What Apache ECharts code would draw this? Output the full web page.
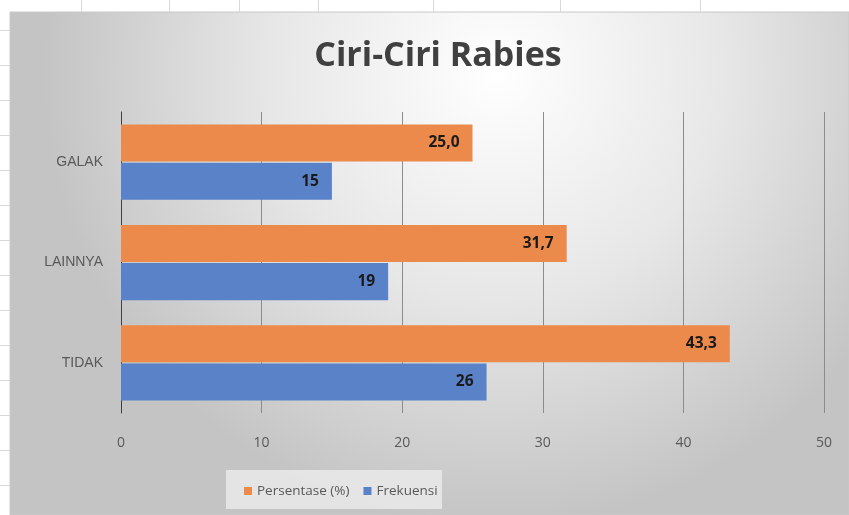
<!DOCTYPE html>
<html>
<head>
<meta charset="utf-8">
<script src="https://cdn.jsdelivr.net/npm/echarts@6/dist/echarts.min.js"></script>
<style>
html,body{margin:0;padding:0;background:#fff;}
#c{width:849px;height:515px;}
</style>
</head>
<body>
<div id="c"></div>
<script>
const categories = ['GALAK', 'LAINNYA', 'TIDAK'];
const persentase = [25.0, 31.7, 43.3];
const frekuensi = [15, 19, 26];
const xTicks = [0, 10, 20, 30, 40, 50];

const chart = echarts.init(document.getElementById('c'));
const graphics = [];
// chart area background
graphics.push({
  type: 'rect', z: -10, silent: true,
  shape: {x: 10, y: 12, width: 839, height: 503},
  style: {
    fill: {type: 'radial', x: 0.58, y: 0.12, r: 0.9,
      colorStops: [{offset: 0, color: '#ffffff'}, {offset: 0.5, color: '#e7e7e7'}, {offset: 1, color: '#c4c4c4'}]},
    stroke: '#c8c8c8', lineWidth: 1
  }
});
// spreadsheet cell lines
[81, 169, 239, 318, 433, 560, 700].forEach(x => graphics.push({
  type: 'line', z: -10, silent: true, shape: {x1: x + 0.5, y1: 0, x2: x + 0.5, y2: 12}, style: {stroke: '#d9d9d9', lineWidth: 1}
}));
for (let y = 30; y < 515; y += 35) graphics.push({
  type: 'line', z: -10, silent: true, shape: {x1: 0, y1: y + 0.5, x2: 10, y2: y + 0.5}, style: {stroke: '#d9d9d9', lineWidth: 1}
});
// legend box
graphics.push({
  type: 'rect', z: -5, silent: true,
  shape: {x: 226, y: 470, width: 216, height: 39},
  style: {fill: 'rgba(232,232,232,0.9)'}
});

chart.setOption({
  animation: false,
  graphic: graphics,
  title: {
    text: 'Ciri-Ciri Rabies', left: 433, top: 34, textAlign: 'center',
    textStyle: {fontFamily: 'Open Sans, sans-serif', fontWeight: 'bold', fontSize: 34, color: '#404040'}
  },
  legend: {
    data: ['Persentase (%)', 'Frekuensi'],
    left: 239, top: 479, itemWidth: 8, itemHeight: 8, itemGap: 14,
    icon: 'rect',
    textStyle: {fontFamily: 'Open Sans, sans-serif', fontSize: 13.5, color: '#595959'}
  },
  grid: {left: 121, right: 25, top: 112, bottom: 102},
  xAxis: {
    type: 'value', min: xTicks[0], max: xTicks[xTicks.length - 1], interval: 10,
    axisLine: {show: false}, axisTick: {show: false},
    splitLine: {lineStyle: {color: '#8c8c8c', width: 1}},
    axisLabel: {margin: 23, fontFamily: 'Open Sans, sans-serif', fontSize: 14, color: '#595959'}
  },
  yAxis: {
    type: 'category', data: categories, inverse: true,
    axisLine: {lineStyle: {color: '#404040', width: 1}},
    axisTick: {show: false},
    axisLabel: {margin: 18, fontFamily: 'Liberation Sans, Arial, sans-serif', fontSize: 14, color: '#595959'}
  },
  series: [
    {
      name: 'Persentase (%)', type: 'bar', data: persentase,
      barCategoryGap: '25%', barGap: '3%',
      itemStyle: {color: '#EC8A4B'},
      label: {show: true, position: 'insideRight', distance: 13, formatter: p => p.value.toFixed(1).replace('.', ','),
        fontFamily: 'Open Sans, sans-serif', fontWeight: 'bold', fontSize: 15.5, color: '#1a1a1a'}
    },
    {
      name: 'Frekuensi', type: 'bar', data: frekuensi,
      itemStyle: {color: '#5A82C9'},
      label: {show: true, position: 'insideRight', distance: 13, formatter: p => String(p.value),
        fontFamily: 'Open Sans, sans-serif', fontWeight: 'bold', fontSize: 15.5, color: '#1a1a1a'}
    }
  ]
});
</script>
</body>
</html>
